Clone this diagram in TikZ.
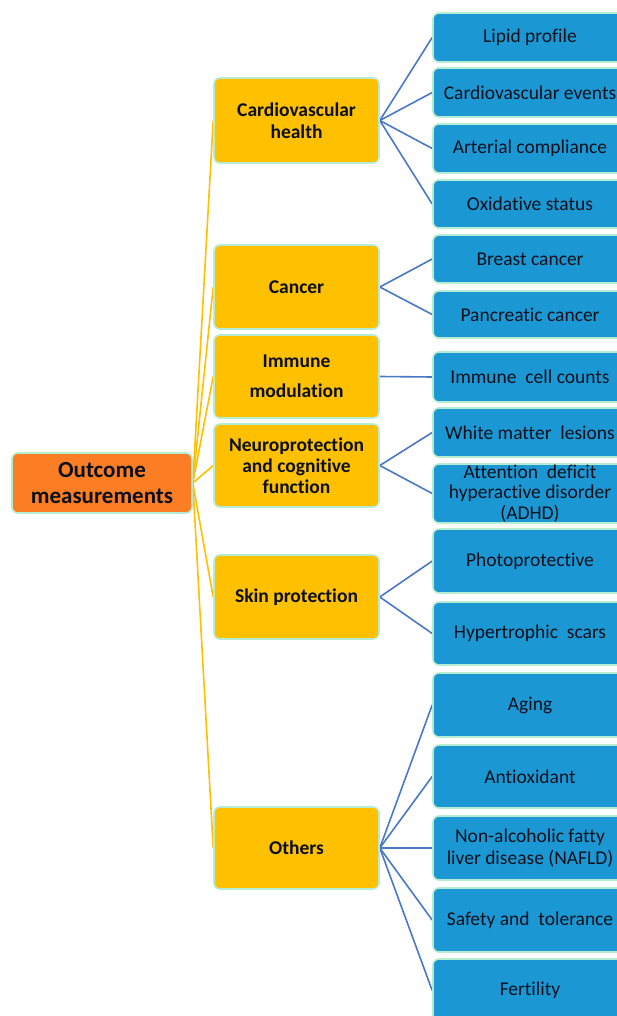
\documentclass[tikz,border=0pt]{standalone}
\usepackage{fontspec}
\setmainfont{Carlito}[RawFeature={-liga;-clig;-calt;-dlig;-rlig}]
\usetikzlibrary{backgrounds}
\newcommand\nb{\kern0pt\relax}
\definecolor{rootfill}{HTML}{FB7D24}
\definecolor{midfill}{HTML}{FFC000}
\definecolor{leaffill}{HTML}{1B98D4}
\definecolor{mint}{HTML}{B5ECD2}
\definecolor{bluelink}{HTML}{4A78C8}
\definecolor{yellowlink}{HTML}{FFC000}
\definecolor{txt}{HTML}{0A0F1A}
\begin{document}
\begin{tikzpicture}[x=1pt,y=-1pt,
  box/.style={rectangle, rounded corners=6pt, draw=mint, line width=1.6pt, inner sep=0pt, align=center, text=txt},
  rootbox/.style={box, fill=rootfill, minimum width=180pt, minimum height=60pt, font=\bfseries\fontsize{23}{26.5}\selectfont},
  midbox/.style={box, fill=midfill, minimum width=165pt, font=\bfseries\fontsize{19.5}{22}\selectfont},
  leafbox/.style={box, fill=leaffill, minimum width=194pt, font=\fontsize{19.5}{21.5}\selectfont},
  ylink/.style={draw=yellowlink, line width=1.6pt},
  blink/.style={draw=bluelink, line width=1.6pt}]
\useasboundingbox (0,0) rectangle (617,1016);
\begin{scope}
\clip (0,0) rectangle (617,1016);
% root
\node[rootbox] (root) at (102,483) {Outcome\\measurements};
% middle level
\node[midbox, minimum height=85pt] (cv) at (296.5,120.5) {Cardiovascular\\health};
\node[midbox, minimum height=84pt] (cancer) at (296.5,287) {Cancer};
\node[midbox, minimum height=83pt, font=\bfseries\fontsize{19.5}{30}\selectfont] (immune) at (296.5,376.5) {Immune\\modulat\nb ion};
\node[midbox, minimum height=83pt, font=\bfseries\fontsize{19.5}{21}\selectfont] (neuro) at (296.5,465.5) {Neuroprotect\nb ion\\and cognit\nb ive\\funct\nb ion};
\node[midbox, minimum height=84pt] (skin) at (296.5,597) {Skin protect\nb ion};
\node[midbox, minimum height=82pt] (others) at (296.5,848) {Others};
% leaves
\node[leafbox, minimum height=49pt] (lipid) at (530,37.5) {Lipid profile};
\node[leafbox, minimum height=49pt] (cvev) at (530,92.5) {Cardiovascular events};
\node[leafbox, minimum height=49pt] (art) at (530,148.5) {Arterial compliance};
\node[leafbox, minimum height=48pt] (oxi) at (530,204) {Oxidat\nb ive status};
\node[leafbox, minimum height=48pt] (breast) at (530,259) {Breast cancer};
\node[leafbox, minimum height=47pt] (panc) at (530,314.5) {Pancreat\nb ic cancer};
\node[leafbox, minimum height=50pt] (icc) at (530,377) {Immune\ \ cell counts};
\node[leafbox, minimum height=49pt] (wml) at (530,432.5) {White matter\ \ lesions};
\node[leafbox, minimum height=59pt, font=\fontsize{19.5}{20.5}\selectfont] (adhd) at (530,493.5) {Attent\nb ion\ \ deficit\\hyperact\nb ive disorder\\(ADHD)};
\node[leafbox, minimum height=64pt] (photo) at (530,561) {Photoprotect\nb ive};
\node[leafbox, minimum height=63pt] (hyp) at (530,633.5) {Hypertrophic\ \ scars};
\node[leafbox, minimum height=64pt] (aging) at (530,705) {Aging};
\node[leafbox, minimum height=63pt] (antiox) at (530,776.5) {Ant\nb ioxidant};
\node[leafbox, minimum height=64pt] (nafld) at (530,848) {Non-alcoholic fatty\\liver disease (NAFLD)};
\node[leafbox, minimum height=64pt] (safety) at (530,920) {Safety and\ \ tolerance};
\node[leafbox, minimum height=63pt] (fert) at (530,990.5) {Fert\nb ility};
\begin{pgfonlayer}{background}
\foreach \c in {cv,cancer,immune,neuro,skin,others}
  \draw[ylink] (root.east) -- (\c.west);
\foreach \p/\c in {cv/lipid,cv/cvev,cv/art,cv/oxi,cancer/breast,cancer/panc,immune/icc,neuro/wml,neuro/adhd,skin/photo,skin/hyp,others/aging,others/antiox,others/nafld,others/safety,others/fert}
  \draw[blink] (\p.east) -- (\c.west);
\end{pgfonlayer}
\end{scope}
\end{tikzpicture}
\end{document}
